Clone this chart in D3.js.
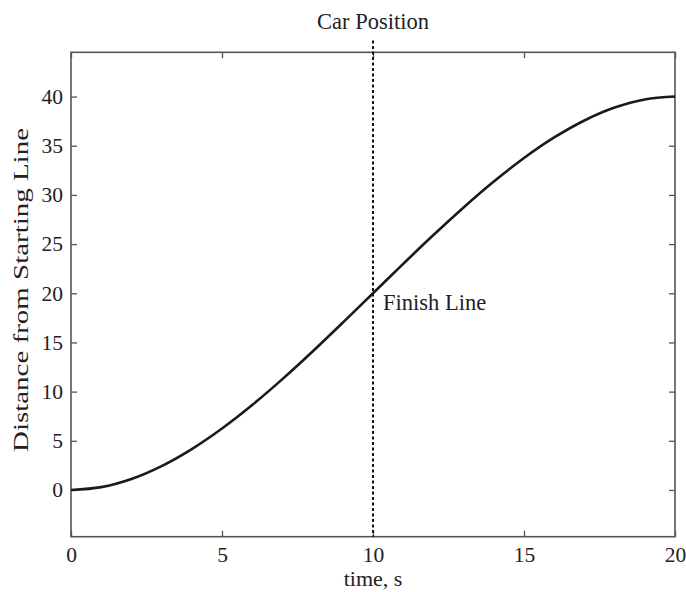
<!DOCTYPE html>
<html>
<head>
<meta charset="utf-8">
<script src="https://cdn.jsdelivr.net/npm/d3@7"></script>
<style>
  html, body { margin: 0; padding: 0; background: #fff; }
  svg { display: block; }
  text { font-family: "Liberation Serif", "DejaVu Serif", serif; fill: #222; }
</style>
</head>
<body>
<svg id="chart" width="686" height="592"></svg>
<script>
// Data
const timeValues = [0, 1, 2, 3, 4, 5, 6, 7, 8, 9, 10, 11, 12, 13, 14, 15, 16, 17, 18, 19, 20];
const distanceValues = [0, 0.29, 1.12, 2.43, 4.16, 6.25, 8.64, 11.27, 14.08, 17.01, 20,
                        22.99, 25.92, 28.73, 31.36, 33.75, 35.84, 37.57, 38.88, 39.71, 40];
const xTicks = [0, 5, 10, 15, 20];
const yTicks = [0, 5, 10, 15, 20, 25, 30, 35, 40];
const finishTime = 10;
const titleText = "Car Position";
const xLabelText = "time, s";
const yLabelText = "Distance from Starting Line";
const annotationText = "Finish Line";

const svg = d3.select("#chart");
const plotLeft = 71, plotRight = 675, plotTop = 52.3, plotBottom = 536.7;

const x = d3.scaleLinear().domain([0, 20]).range([plotLeft, plotRight]);
const y = d3.scaleLinear().domain([-4.75, 44.5]).range([plotBottom, plotTop]);

const tickLen = 6;
const frameColor = "#555";

// axes
const xAxisB = d3.axisBottom(x).tickValues(xTicks).tickSizeInner(-tickLen).tickSizeOuter(0).tickPadding(10);
const xAxisT = d3.axisTop(x).tickValues(xTicks).tickSizeInner(-tickLen).tickSizeOuter(0).tickFormat("");
const yAxisL = d3.axisLeft(y).tickValues(yTicks).tickSizeInner(-tickLen).tickSizeOuter(0).tickPadding(8);
const yAxisR = d3.axisRight(y).tickValues(yTicks).tickSizeInner(-tickLen).tickSizeOuter(0).tickFormat("");

function style(g) {
  g.select(".domain").remove();
  g.selectAll(".tick line").attr("stroke", frameColor).attr("stroke-width", 1.3);
  g.selectAll(".tick text").attr("font-family", "Liberation Serif").attr("font-size", 21.5).attr("fill", "#222");
}
svg.append("g").attr("transform", `translate(0,${plotBottom})`).call(xAxisB).call(style);
svg.append("g").attr("transform", `translate(0,${plotTop})`).call(xAxisT).call(style);
svg.append("g").attr("transform", `translate(${plotLeft},0)`).call(yAxisL).call(style);
svg.append("g").attr("transform", `translate(${plotRight},0)`).call(yAxisR).call(style);

// frame
svg.append("rect")
  .attr("x", plotLeft).attr("y", plotTop)
  .attr("width", plotRight - plotLeft).attr("height", plotBottom - plotTop)
  .attr("fill", "none").attr("stroke", frameColor).attr("stroke-width", 1.6);

// finish line (dotted vertical)
svg.append("line")
  .attr("x1", x(finishTime)).attr("x2", x(finishTime))
  .attr("y1", y(45.7)).attr("y2", y.range()[0])
  .attr("stroke", "#111").attr("stroke-width", 2)
  .attr("stroke-dasharray", "3,2.5");

// curve
const line = d3.line()
  .x((d, i) => x(timeValues[i]))
  .y(d => y(d))
  .curve(d3.curveCatmullRom);
svg.append("path")
  .datum(distanceValues)
  .attr("d", line)
  .attr("fill", "none")
  .attr("stroke", "#1a1a1a")
  .attr("stroke-width", 2.6);

// texts
svg.append("text").attr("x", (plotLeft + plotRight) / 2).attr("y", 29)
  .attr("text-anchor", "middle").attr("font-size", 22.5).text(titleText);
svg.append("text").attr("x", (plotLeft + plotRight) / 2).attr("y", 586)
  .attr("text-anchor", "middle").attr("font-size", 22).text(xLabelText);
svg.append("text")
  .attr("transform", `translate(28,290) rotate(-90)`)
  .attr("text-anchor", "middle").attr("font-size", 22)
  .attr("textLength", 324).attr("lengthAdjust", "spacingAndGlyphs")
  .text(yLabelText);
svg.append("text").attr("x", x(finishTime) + 10).attr("y", y(20) + 17)
  .attr("font-size", 22.5).text(annotationText);
</script>
</body>
</html>
